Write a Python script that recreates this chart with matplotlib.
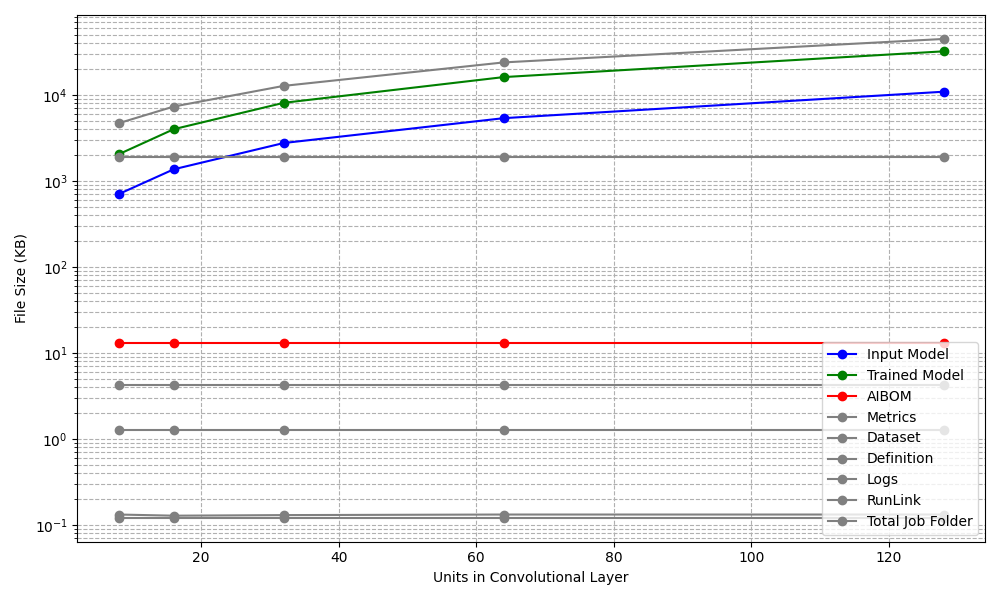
import matplotlib
matplotlib.use('Agg')
import matplotlib.pyplot as plt

# units in the conv layer
units = [8, 16, 32, 64, 128]

# file sizes in KB
input_model = [705, 1370, 2770, 5390, 10950]
trained_model = [2050, 4010, 8130, 16200, 32300]
aibom = [13.1, 13.1, 13.1, 13.1, 13.1]
metrics = [4.2, 4.2, 4.2, 4.2, 4.2]
dataset = [1905, 1905, 1905, 1905, 1905]
definition = [1.27, 1.27, 1.27, 1.27, 1.27]
logs = [0.132, 0.128, 0.13, 0.132, 0.132]
runlink = [0.121, 0.121, 0.121, 0.121, 0.121]
total_job = [4710, 7360, 12800, 24000, 45000]

plt.figure(figsize=(10, 6), dpi=100)
plt.plot(units, input_model, marker='o', color='blue', label='Input Model')
plt.plot(units, trained_model, marker='o', color='green', label='Trained Model')
plt.plot(units, aibom, marker='o', color='red', label='AIBOM')
plt.plot(units, metrics, marker='o', color='gray', label='Metrics')
plt.plot(units, dataset, marker='o', color='gray', label='Dataset')
plt.plot(units, definition, marker='o', color='gray', label='Definition')
plt.plot(units, logs, marker='o', color='gray', label='Logs')
plt.plot(units, runlink, marker='o', color='gray', label='RunLink')
plt.plot(units, total_job, marker='o', color='gray', label='Total Job Folder')
plt.yscale('log')
plt.xlabel('Units in Convolutional Layer')
plt.ylabel('File Size (KB)')
plt.grid(True, which='both', linestyle='--')
plt.legend(loc='lower right')
plt.tight_layout()
plt.savefig('out.png')
